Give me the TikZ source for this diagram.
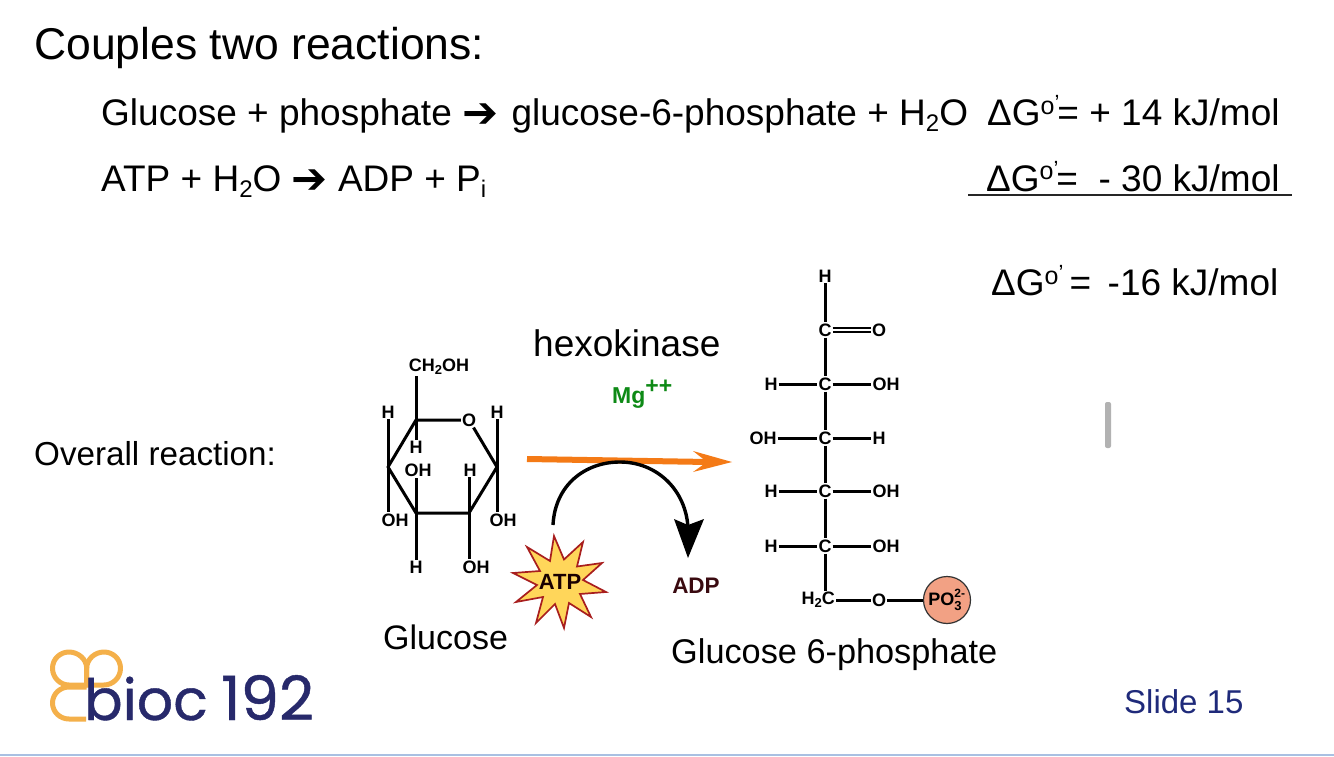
\documentclass[tikz,border=0pt]{standalone}
\usepackage{fontspec}
\setmainfont{Liberation Sans}
\newfontfamily\arrowfont{DejaVu Sans}
\newfontfamily\logofont[FakeBold=0.7]{Poppins}
\usetikzlibrary{calc}
\definecolor{navy}{HTML}{1F2A7A}
\definecolor{logoblue}{HTML}{27296B}
\definecolor{logoorange}{HTML}{F4B04A}
\definecolor{rxorange}{HTML}{F47A16}
\definecolor{mgreen}{HTML}{0E8A16}
\definecolor{adpcol}{HTML}{3A0A10}
\definecolor{starfill}{HTML}{FFD65A}
\definecolor{starline}{HTML}{A81E1E}
\definecolor{pfill}{HTML}{F2A184}
\definecolor{rulecol}{HTML}{A9C0E2}
\newcommand{\lowtxt}[1]{\raisebox{-6pt}{\fontsize{24}{24}\selectfont #1}}
\newcommand{\arw}{\raisebox{-2pt}{\arrowfont\fontsize{43}{43}\selectfont ➔}}
\newcommand{\smsub}[1]{\raisebox{-3pt}{\fontsize{13}{13}\selectfont #1}}
\newcommand{\dG}{\char"0394 G\raisebox{11pt}{\fontsize{25}{25}\selectfont o}\raisebox{15pt}{\fontsize{22}{22}\selectfont ’}}
\tikzset{
  txt/.style={anchor=base west,inner sep=0pt,font=\fontsize{37}{42}\selectfont},
  title/.style={anchor=base west,inner sep=0pt,font=\fontsize{44.5}{50}\selectfont},
  atom/.style={inner sep=1pt,font=\bfseries\fontsize{18}{20}\selectfont},
  bond/.style={line width=3pt,black},
  loopline/.style={line width=5pt,logoorange,line join=round}
}
\begin{document}
\begin{tikzpicture}[x=1pt,y=-1pt]
\useasboundingbox (0,0) rectangle (1334,757);
\fill[white] (0,0) rectangle (1334,757);
% slide text
\node[title] (ttl) at (34,59.5) {Couples two reactions:};
\node[txt] (l1) at (101,126) {Glucose + phosphate \arw{}\hspace{3pt} glucose-6-phosphate + H\lowtxt{2}O};
\node[txt] (l2) at (101,191) {ATP + H\lowtxt{2}O \arw{} ADP + P\lowtxt{i}};
\node[txt] (g1) at (987,126) {\dG\hspace{-2pt}= + 14 kJ/mol};
\node[txt] (g2) at (986,191) {\dG\hspace{-2pt}=\ \ - 30 kJ/mol};
\node[txt] (g3) at (991,295) {\dG\,=\ \,-16 kJ/mol};
\coordinate (ul) at (968,195); \coordinate (ur) at (1292,195);
\draw[line width=1.6pt,black!85] (ul) -- (ur);
\node[anchor=base west,inner sep=0pt,font=\fontsize{33.2}{38}\selectfont] (ov) at (34,465) {Overall reaction:};
\node[txt] (hk) at (533,356) {hexokinase};
\node[anchor=base west,inner sep=0pt,font=\bfseries\fontsize{23}{26}\selectfont,text=mgreen] (mg) at (612,403) {Mg\raisebox{10pt}{++}};
\node[anchor=base west,inner sep=0pt,font=\fontsize{34}{38}\selectfont] (gl) at (383,649) {Glucose};
\node[anchor=base west,inner sep=0pt,font=\fontsize{34.3}{38}\selectfont] (g6) at (671,663) {Glucose 6-phosphate};
\node[anchor=base west,inner sep=0pt,font=\fontsize{33}{38}\selectfont,text=navy] (sl) at (1124,713) {Slide 15};
% glucose ring
\coordinate (r1) at (416,420);
\coordinate (r3) at (497,467);
\coordinate (r4) at (469,513);
\coordinate (r5) at (416,513);
\coordinate (r6) at (388,467);
\node[atom] (ringO) at (469,420) {O};
\node[atom] (ch2) at (439,367) {CH\smsub{2}OH};
\node[atom] (h1) at (388,412) {H};
\node[atom] (h2) at (497,412) {H};
\node[atom] (h3) at (416,447) {H};
\node[atom] (oh1) at (418,470) {OH};
\node[atom] (h4) at (470,470) {H};
\node[atom] (oh2) at (395,520) {OH};
\node[atom] (oh3) at (503,520) {OH};
\node[atom] (h5) at (416,567) {H};
\node[atom] (oh4) at (476,567) {OH};
\draw[bond,line join=round] (ringO) -- (r1) -- (r6) -- (r5) -- (r4) -- (r3) -- (ringO);
\draw[bond] (r1) -- (r1 |- ch2.south);
\draw[bond] (r1) -- (h3);
\draw[bond] (r6) -- (h1);
\draw[bond] (r6) -- (r6 |- oh2.north);
\draw[bond] (r3) -- (h2);
\draw[bond] (r3) -- (r3 |- oh3.north);
\draw[bond] (r5) -- (r5 |- oh1.south);
\draw[bond] (r5) -- (h5);
\draw[bond] (r4) -- (r4 |- h4.south);
\draw[bond] (r4) -- (r4 |- oh4.north);
% open chain
\node[atom] (ht) at (825,276) {H};
\node[atom] (c1) at (825,330) {C};
\node[atom] (ot) at (879,330) {O};
\node[atom] (c2) at (825,384) {C};
\node[atom] (c3) at (825,438) {C};
\node[atom] (c4) at (825,491) {C};
\node[atom] (c5) at (825,546) {C};
\node[atom,anchor=east] (hc) at (836,600) {H\smsub{2}C};
\node[atom] (oe) at (879,600) {O};
\node[atom] (a1) at (771,384) {H};
\node[atom] (b1) at (886,384) {OH};
\node[atom] (a2) at (763,438) {OH};
\node[atom] (b2) at (879,438) {H};
\node[atom] (a3) at (771,491) {H};
\node[atom] (b3) at (886,491) {OH};
\node[atom] (a4) at (771,546) {H};
\node[atom] (b4) at (886,546) {OH};
\node[circle,draw=black!80,line width=1.2pt,fill=pfill,minimum size=47pt,inner sep=0pt,font=\bfseries\fontsize{18}{20}\selectfont] (po) at (947,600) {\hspace{-4pt}PO\rlap{\raisebox{8pt}{\fontsize{12}{12}\selectfont 2-}}\raisebox{-5pt}{\fontsize{13}{13}\selectfont 3}};
\draw[bond] (ht) -- (c1);
\draw[bond] (c1) -- (c2);
\draw[bond] (c2) -- (c3);
\draw[bond] (c3) -- (c4);
\draw[bond] (c4) -- (c5);
\draw[bond] (c5) -- (c5 |- hc.north);
\draw[line width=2pt,double,double distance=2.4pt] (c1) -- (ot);
\draw[bond] (a1) -- (c2); \draw[bond] (c2) -- (b1);
\draw[bond] (a2) -- (c3); \draw[bond] (c3) -- (b2);
\draw[bond] (a3) -- (c4); \draw[bond] (c4) -- (b3);
\draw[bond] (a4) -- (c5); \draw[bond] (c5) -- (b4);
\draw[bond] (hc) -- (oe);
\draw[bond] (oe) -- (po);
% reaction arrow
\coordinate (ra) at (527,459);
\coordinate (rb) at (708,462);
\draw[rxorange,line width=6pt] (ra) -- (rb);
\fill[rxorange] (732,462) -- (693,451) -- (707,462) -- (693,472) -- cycle;
% ATP curve
\coordinate (ca) at (553,525);
\coordinate (cb) at (688,528);
\draw[line width=3.4pt] (ca) .. controls (555,485) and (585,462) .. (620,462) .. controls (657,462) and (686,490) .. (cb);
\fill[black] (688,558) -- (674,519) -- (688,525) -- (704,519) -- cycle;
% ATP star
\draw[starline,fill=starfill,line width=1.7pt,line join=miter]
 (554,536) -- (564,559.5) -- (583,542) -- (577,566.5) -- (602,563) -- (583,580) -- (606,592) -- (580,594) -- (591,617) -- (569,603) -- (564,628) -- (555,604) -- (536,623) -- (543,597) -- (516,602) -- (537,585) -- (513,573) -- (540,571) -- (527,547) -- (550,561) -- cycle;
\node[inner sep=0pt,font=\bfseries\fontsize{22}{24}\selectfont,text=black!90!red] (atp) at (560,582) {ATP};
\node[inner sep=0pt,font=\bfseries\fontsize{22.5}{24}\selectfont,text=adpcol] (adp) at (696,586) {ADP};
% scroll bar and footer rule
\fill[black!30,rounded corners=2pt] (1105,402) rectangle (1111,448);
\coordinate (fl) at (0,755); \coordinate (fr) at (1334,755);
\draw[rulecol,line width=2pt] (fl) -- (fr);
% logo
\draw[loopline] (86.7,685) -- (69,685) .. controls (60,685) and (52.5,677.5) .. (52.5,668.3) .. controls (52.5,659) and (60,652) .. (69,652) .. controls (78,652) and (86.7,659) .. (86.7,668.3) -- cycle;
\draw[loopline] (86.7,685) -- (104,685) .. controls (113,685) and (120.5,677.5) .. (120.5,668.3) .. controls (120.5,659) and (113,652) .. (104,652) .. controls (95,652) and (86.7,659) .. (86.7,668.3) -- cycle;
\draw[loopline] (86.7,687) -- (69,687) .. controls (60,687) and (52.5,694) .. (52.5,703) .. controls (52.5,712) and (60,719) .. (69,719) -- (86,719);
\node[anchor=base west,inner sep=0pt,font=\logofont\fontsize{57}{66}\selectfont,text=logoblue] (logo) at (84,720) {bioc\hspace{-2pt} {\fontsize{61}{66}\selectfont 192}};
\end{tikzpicture}
\end{document}
